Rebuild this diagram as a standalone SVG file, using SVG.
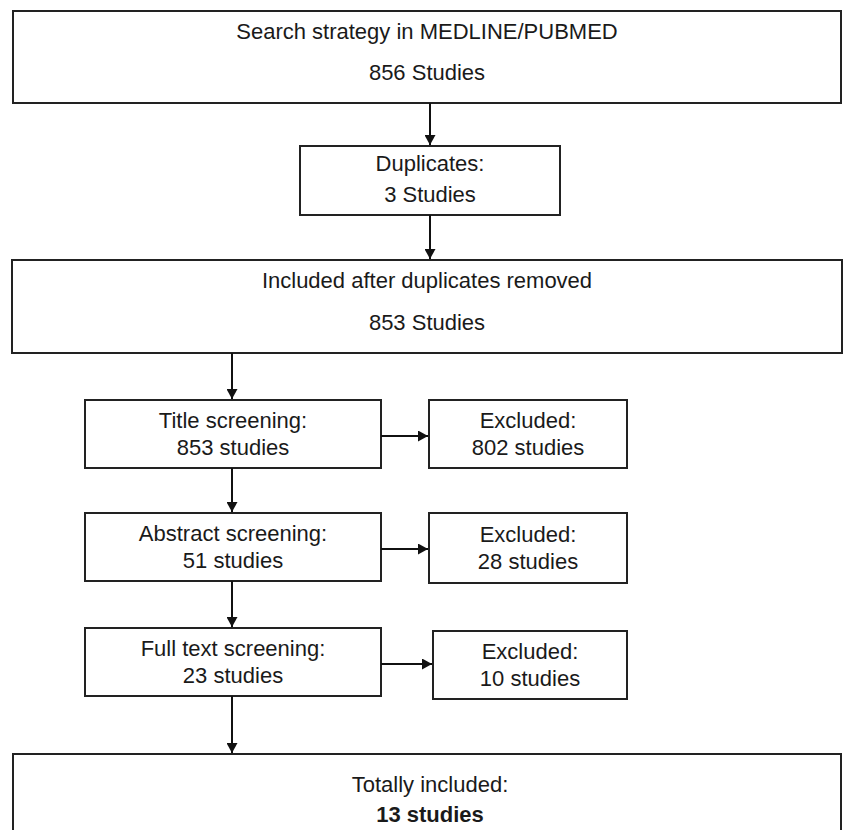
<svg xmlns="http://www.w3.org/2000/svg" width="843" height="830" viewBox="0 0 843 830">
<style>
.box{fill:#fff;stroke:#222;stroke-width:2}
.t{font-family:"Liberation Sans",Arial,sans-serif;font-size:22px;fill:#1a1a1a;text-anchor:middle}
.b{font-weight:bold}
.c{stroke:#111;stroke-width:2;fill:none}
</style>
<defs>
<marker id="ah" markerWidth="10" markerHeight="11" refX="10" refY="5.5" orient="auto" markerUnits="userSpaceOnUse">
<path d="M0,0 L10,5.5 L0,11 Z" fill="#111"/>
</marker>
</defs>
<rect width="843" height="830" fill="#fff"/>
<g id="search">
<rect class="box" x="13" y="11" width="828" height="92"/>
<text class="t" x="427" y="39">Search strategy in MEDLINE/PUBMED</text>
<text class="t" x="427" y="80">856 Studies</text>
</g>
<g id="duplicates">
<rect class="box" x="300" y="146" width="260" height="69"/>
<text class="t" x="430" y="171">Duplicates:</text>
<text class="t" x="430" y="202">3 Studies</text>
</g>
<g id="included">
<rect class="box" x="12" y="260" width="830" height="93"/>
<text class="t" x="427" y="288">Included after duplicates removed</text>
<text class="t" x="427" y="330">853 Studies</text>
</g>
<g id="title">
<rect class="box" x="85" y="400" width="296" height="68"/>
<text class="t" x="233" y="428">Title screening:</text>
<text class="t" x="233" y="455">853 studies</text>
</g>
<g id="excl1">
<rect class="box" x="429" y="400" width="198" height="68"/>
<text class="t" x="528" y="428">Excluded:</text>
<text class="t" x="528" y="455">802 studies</text>
</g>
<g id="abstract">
<rect class="box" x="85" y="513" width="296" height="68"/>
<text class="t" x="233" y="541">Abstract screening:</text>
<text class="t" x="233" y="568">51 studies</text>
</g>
<g id="excl2">
<rect class="box" x="429" y="513" width="198" height="70"/>
<text class="t" x="528" y="542">Excluded:</text>
<text class="t" x="528" y="569">28 studies</text>
</g>
<g id="fulltext">
<rect class="box" x="85" y="628" width="296" height="68"/>
<text class="t" x="233" y="656">Full text screening:</text>
<text class="t" x="233" y="683">23 studies</text>
</g>
<g id="excl3">
<rect class="box" x="433" y="631" width="194" height="68"/>
<text class="t" x="530" y="659">Excluded:</text>
<text class="t" x="530" y="686">10 studies</text>
</g>
<g id="total">
<rect class="box" x="13" y="754" width="828" height="80"/>
<text class="t" x="430" y="792">Totally included:</text>
<text class="t b" x="430" y="822">13 studies</text>
</g>
<g id="connectors">
<line class="c" x1="430" y1="103" x2="430" y2="145" marker-end="url(#ah)"/>
<line class="c" x1="430" y1="215" x2="430" y2="259" marker-end="url(#ah)"/>
<line class="c" x1="232" y1="353" x2="232" y2="399" marker-end="url(#ah)"/>
<line class="c" x1="232" y1="468" x2="232" y2="512" marker-end="url(#ah)"/>
<line class="c" x1="232" y1="581" x2="232" y2="627" marker-end="url(#ah)"/>
<line class="c" x1="232" y1="696" x2="232" y2="753" marker-end="url(#ah)"/>
<line class="c" x1="381" y1="436" x2="428" y2="436" marker-end="url(#ah)"/>
<line class="c" x1="381" y1="549" x2="428" y2="549" marker-end="url(#ah)"/>
<line class="c" x1="381" y1="664" x2="432" y2="664" marker-end="url(#ah)"/>
</g>
</svg>
